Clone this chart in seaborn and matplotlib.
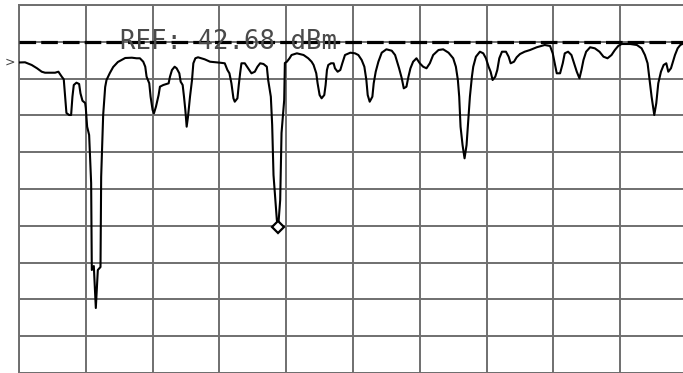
import matplotlib
matplotlib.use("Agg")
import matplotlib.pyplot as plt
import seaborn as sns
import pandas as pd

# Spectrum trace: x in divisions (0-10), level in dB relative to REF (10 dB/div)
freq_div = [
    0.00, 0.09, 0.19, 0.27, 0.34, 0.39, 0.54, 0.59, 0.64, 0.67, 0.69, 0.71, 0.75, 0.78, 0.80, 0.82,
    0.86, 0.90, 0.92, 0.95, 0.99, 1.00, 1.02, 1.05, 1.08, 1.09, 1.12, 1.15, 1.18, 1.22, 1.23, 1.26,
    1.29, 1.31, 1.36, 1.41, 1.48, 1.59, 1.69, 1.76, 1.81, 1.86, 1.89, 1.91, 1.95, 1.97, 2.00, 2.02,
    2.05, 2.09, 2.11, 2.16, 2.24, 2.26, 2.29, 2.33, 2.36, 2.40, 2.42, 2.45, 2.47, 2.49, 2.51, 2.53,
    2.56, 2.59, 2.61, 2.64, 2.68, 2.78, 2.86, 3.01, 3.08, 3.12, 3.15, 3.18, 3.21, 3.23, 3.27, 3.29,
    3.31, 3.33, 3.38, 3.43, 3.48, 3.53, 3.57, 3.61, 3.66, 3.71, 3.73, 3.77, 3.79, 3.81, 3.86, 3.88,
    3.91, 3.93, 3.97, 3.98, 4.01, 4.05, 4.08, 4.16, 4.26, 4.33, 4.38, 4.41, 4.45, 4.47, 4.50, 4.53,
    4.57, 4.59, 4.61, 4.63, 4.67, 4.71, 4.73, 4.77, 4.81, 4.84, 4.88, 4.96, 5.03, 5.08, 5.13, 5.17,
    5.20, 5.22, 5.25, 5.29, 5.31, 5.34, 5.38, 5.43, 5.50, 5.58, 5.63, 5.66, 5.69, 5.73, 5.76, 5.80,
    5.83, 5.86, 5.90, 5.95, 6.00, 6.05, 6.10, 6.15, 6.20, 6.28, 6.35, 6.43, 6.50, 6.54, 6.57, 6.59,
    6.61, 6.64, 6.67, 6.70, 6.73, 6.75, 6.78, 6.80, 6.84, 6.90, 6.95, 6.99, 7.03, 7.06, 7.09, 7.13,
    7.16, 7.19, 7.23, 7.29, 7.33, 7.36, 7.41, 7.45, 7.50, 7.57, 7.65, 7.75, 7.87, 7.95, 7.99, 8.02,
    8.05, 8.10, 8.14, 8.17, 8.22, 8.27, 8.31, 8.35, 8.39, 8.42, 8.45, 8.49, 8.55, 8.62, 8.69, 8.75,
    8.81, 8.87, 8.92, 8.97, 9.02, 9.15, 9.25, 9.32, 9.37, 9.41, 9.44, 9.47, 9.51, 9.54, 9.57, 9.61,
    9.65, 9.69, 9.72, 9.76, 9.79, 9.82, 9.86, 9.90, 9.95, 10.00,
]
level_db = [
    -5.62, -5.57, -6.30, -7.20, -8.13, -8.40, -8.40, -8.13, -9.48, -10.19, -14.92, -19.35, -19.89, -19.89, -14.92, -11.74,
    -11.11, -11.47, -13.99, -16.01, -16.63, -17.99, -23.07, -25.33, -38.37, -62.01, -60.93, -72.34, -62.01, -61.20, -36.74, -19.89,
    -12.28, -10.38, -8.48, -6.85, -5.49, -4.40, -4.32, -4.48, -4.48, -5.41, -6.77, -9.48, -11.28, -14.92, -18.53, -19.43,
    -17.64, -14.46, -12.20, -11.74, -11.28, -9.48, -7.66, -6.77, -7.20, -8.56, -10.84, -11.74, -14.92, -18.53, -23.07, -20.35,
    -14.92, -10.38, -5.84, -4.48, -4.21, -4.76, -5.41, -5.68, -5.84, -7.66, -8.56, -11.28, -15.35, -16.28, -15.35, -11.74,
    -8.56, -5.84, -5.84, -7.20, -8.56, -8.13, -6.77, -5.84, -6.03, -6.77, -10.38, -14.92, -22.61, -36.20, -48.42, -50.33,
    -42.99, -24.78, -15.82, -5.76, -5.41, -4.48, -3.59, -3.13, -3.59, -4.48, -5.41, -6.30, -8.56, -11.28, -14.46, -15.35,
    -14.46, -11.74, -7.66, -6.30, -5.84, -5.84, -7.20, -8.13, -7.66, -5.84, -3.59, -2.96, -3.13, -3.59, -4.95, -6.77,
    -10.38, -14.46, -16.28, -14.92, -11.28, -8.13, -5.41, -2.96, -2.04, -2.42, -3.59, -5.41, -7.20, -9.92, -12.64, -12.20,
    -9.48, -7.20, -5.41, -4.48, -5.84, -6.77, -7.20, -5.84, -3.59, -2.23, -2.04, -2.96, -4.48, -6.77, -10.38, -14.92,
    -23.07, -28.04, -31.66, -28.04, -20.35, -14.92, -9.48, -6.77, -4.05, -2.69, -3.13, -4.48, -6.77, -8.13, -10.38, -9.48,
    -7.66, -4.48, -2.69, -2.69, -4.05, -5.84, -5.41, -4.21, -3.32, -2.69, -2.23, -1.49, -0.87, -1.14, -3.13, -5.84,
    -8.56, -8.56, -5.84, -3.13, -2.69, -3.59, -5.84, -8.13, -9.92, -7.66, -4.95, -2.69, -1.49, -1.77, -2.69, -4.05,
    -4.48, -3.59, -2.23, -1.14, -0.60, -0.60, -0.87, -1.77, -3.59, -5.84, -10.38, -14.92, -19.89, -16.71, -11.28, -8.13,
    -6.30, -5.84, -8.13, -7.20, -5.41, -3.59, -1.77, -0.87, -0.41, -0.05,
]

# marker on the second deep notch
marker_freq = [3.88]
marker_level = [-50.33]

ref_level = 0.0
ref_label = "REF: 42.68 dBm"
x_divisions = list(range(0, 11))
y_divisions = list(range(-90, 11, 10))

sns.set_style("white")

trace = pd.DataFrame({"freq": freq_div, "level": level_db})

fig = plt.figure(figsize=(6.83, 3.73), dpi=100)
# the screen grid runs a little past the right edge of the capture
ax = fig.add_axes([19 / 683, 0.0, 668 / 683, 368 / 373])

ax.set_xlim(0, 10)
ax.set_ylim(-90, 10)
ax.set_xticks(x_divisions)
ax.set_yticks(y_divisions)
ax.tick_params(left=False, bottom=False, labelleft=False, labelbottom=False)
ax.grid(True, color="#6f6f6f", lw=1.4)
for side in ax.spines.values():
    side.set_color("#6f6f6f")
    side.set_linewidth(1.4)

# reference level line + label
ax.axhline(ref_level, color="black", lw=2.3, ls=(0, (5.2, 1.6)), zorder=3)
ax.text(1.51, ref_level, ref_label, family="DejaVu Sans Mono", fontsize=18.5,
        color="#4a4a4a", va="center", ha="left", zorder=4)

sns.lineplot(data=trace, x="freq", y="level", sort=False, estimator=None,
             color="black", lw=1.5, ax=ax, zorder=5)
ax.plot(marker_freq, marker_level, marker="D", ms=6, mfc="white", mec="black",
        mew=1.6, ls="none", zorder=6)

# small reference marker to the left of the grid
ax.text(-0.13, level_db[0], ">", fontsize=9, color="#444444", ha="center",
        va="center", clip_on=False)

ax.set_xlabel("")
ax.set_ylabel("")

fig.savefig("out.png", dpi=100)
